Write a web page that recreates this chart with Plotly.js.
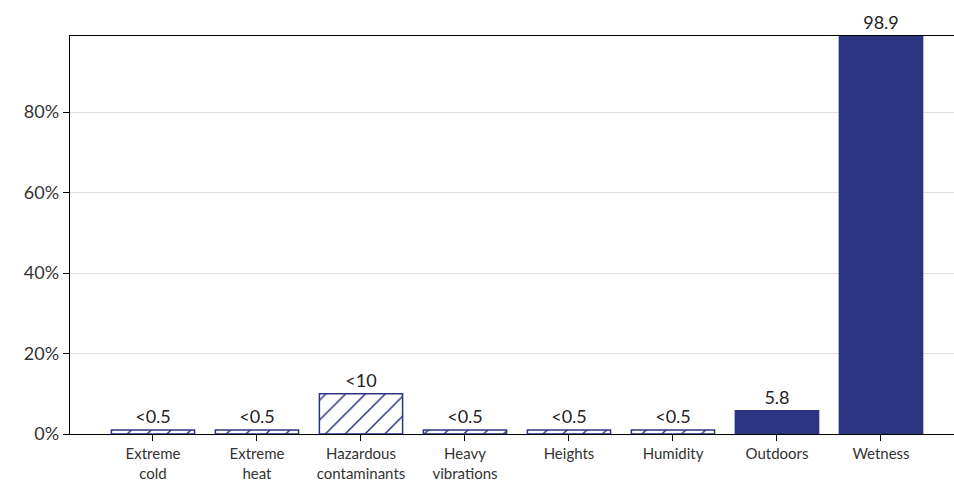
<!DOCTYPE html>
<html>
<head>
<meta charset="utf-8">
<script src="https://cdn.plot.ly/plotly-3.0.1.min.js"></script>
<style>
html,body{margin:0;padding:0;background:#fff;overflow:hidden;}
#chart{width:954px;height:489px;}
</style>
</head>
<body>
<div id="chart"></div>
<script>
var categories = ["Extreme<br>cold", "Extreme<br>heat", "Hazardous<br>contaminants", "Heavy<br>vibrations", "Heights", "Humidity", "Outdoors", "Wetness"];
var values = [1, 1, 10, 1, 1, 1, 5.8, 98.9];
var valueLabels = ["<0.5", "<0.5", "<10", "<0.5", "<0.5", "<0.5", "5.8", "98.9"];
var isUpperBound = [true, true, true, true, true, true, false, false];
var yTickValues = [0, 20, 40, 60, 80];
var yTickLabels = ["0%", "20%", "40%", "60%", "80%"];

var navy = "#2B3582";
var shapes = isUpperBound.map(function(b){ return b ? "/" : ""; });

var trace = {
  type: "bar",
  x: categories,
  y: values,
  text: valueLabels,
  texttemplate: "%{text}",
  textposition: "outside",
  cliponaxis: false,
  constraintext: "none",
  textfont: {family: "Lato, 'Open Sans', sans-serif", size: 18, color: "#222"},
  width: 0.8,
  marker: {
    color: navy,
    line: {color: navy, width: 1.5},
    pattern: {shape: shapes, bgcolor: "#ffffff", fgopacity: 1, size: 14, solidity: 0.11, fillmode: "replace"}
  },
  hoverinfo: "x+y"
};

var layout = {
  width: 954,
  height: 489,
  margin: {l: 70, r: 0, t: 36, b: 55},
  paper_bgcolor: "#fff",
  plot_bgcolor: "#fff",
  showlegend: false,
  bargap: 0.2,
  xaxis: {
    type: "category",
    range: [-0.798, 7.702],
    showline: true,
    linecolor: "#000",
    linewidth: 1.3,
    mirror: true,
    ticks: "outside",
    ticklen: 6,
    tickcolor: "#000",
    tickfont: {family: "Lato, 'Open Sans', sans-serif", size: 15, color: "#333"},
    showgrid: false,
    zeroline: false
  },
  yaxis: {
    range: [0, 98.9],
    tickvals: yTickValues,
    ticktext: yTickLabels,
    showline: true,
    linecolor: "#000",
    linewidth: 1.3,
    ticks: "outside",
    ticklen: 6,
    tickcolor: "#000",
    tickfont: {family: "Lato, 'Open Sans', sans-serif", size: 18, color: "#333"},
    showgrid: true,
    gridcolor: "#dddddd",
    gridwidth: 1,
    zeroline: false
  }
};

Plotly.newPlot("chart", [trace], layout, {displayModeBar: false, staticPlot: true});
</script>
</body>
</html>
